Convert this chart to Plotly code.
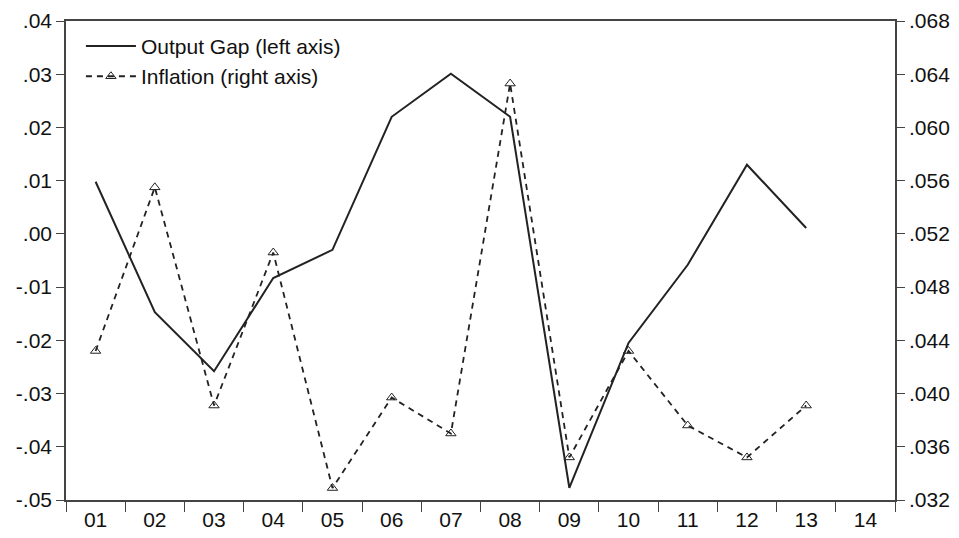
import plotly.graph_objects as go

years = ["01", "02", "03", "04", "05", "06", "07", "08", "09", "10", "11", "12", "13", "14"]
output_gap = [0.0098, -0.0147, -0.0258, -0.0083, -0.0030, 0.0220, 0.0301, 0.0220, -0.0477, -0.0205, -0.0058, 0.0130, 0.0011]
inflation = [0.0432, 0.0555, 0.0391, 0.0506, 0.0329, 0.0397, 0.0370, 0.0633, 0.0352, 0.0432, 0.0376, 0.0352, 0.0391]

left_ticks = [-0.05, -0.04, -0.03, -0.02, -0.01, 0.00, 0.01, 0.02, 0.03, 0.04]
left_text = ["-.05", "-.04", "-.03", "-.02", "-.01", ".00", ".01", ".02", ".03", ".04"]
right_ticks = [0.032, 0.036, 0.040, 0.044, 0.048, 0.052, 0.056, 0.060, 0.064, 0.068]
right_text = [".032", ".036", ".040", ".044", ".048", ".052", ".056", ".060", ".064", ".068"]

ink = "#222222"
axis_col = "#444444"

fig = go.Figure()
fig.add_trace(
    go.Scatter(
        x=years[: len(output_gap)],
        y=output_gap,
        mode="lines",
        line=dict(color=ink, width=2),
        name="Output Gap (left axis)",
    )
)
fig.add_trace(
    go.Scatter(
        x=years[: len(inflation)],
        y=inflation,
        mode="lines+markers",
        line=dict(color=ink, width=1.8, dash="6px,5px"),
        marker=dict(symbol="triangle-up-open", size=9, color=ink, line=dict(width=1)),
        name="Inflation (right axis)",
        yaxis="y2",
    )
)

font = dict(family="Liberation Sans, Arial, sans-serif", size=21, color="#111111")

fig.update_layout(
    width=959,
    height=538,
    margin=dict(l=66, r=64, t=21, b=38, autoexpand=False),
    paper_bgcolor="white",
    plot_bgcolor="white",
    font=font,
    showlegend=True,
    legend=dict(
        x=0.018, y=0.99, xanchor="left", yanchor="top",
        bgcolor="rgba(0,0,0,0)", font=dict(size=21), tracegroupgap=0,
        itemwidth=50,
    ),
    xaxis=dict(
        type="category",
        categoryorder="array",
        categoryarray=years,
        range=[-0.5, 13.5],
        tickson="boundaries",
        ticks="outside",
        ticklen=10,
        tickcolor=axis_col,
        showline=True,
        linecolor=axis_col,
        linewidth=1.5,
        mirror=True,
        showgrid=False,
        zeroline=False,
        automargin=False,
        tickfont=font,
    ),
    yaxis=dict(
        range=[-0.05, 0.04],
        tickvals=left_ticks,
        ticktext=left_text,
        ticks="outside",
        ticklen=8,
        tickcolor=axis_col,
        showline=True,
        linecolor=axis_col,
        linewidth=1.5,
        showgrid=False,
        zeroline=False,
        automargin=False,
        tickfont=font,
    ),
    yaxis2=dict(
        range=[0.032, 0.068],
        tickvals=right_ticks,
        ticktext=right_text,
        overlaying="y",
        side="right",
        ticks="outside",
        ticklen=8,
        tickcolor=axis_col,
        showline=True,
        linecolor=axis_col,
        linewidth=1.5,
        showgrid=False,
        zeroline=False,
        automargin=False,
        tickfont=font,
    ),
)

fig.write_html(
    "out.html",
    config={"displayModeBar": False},
    post_script="document.body.style.margin='0';",
)
